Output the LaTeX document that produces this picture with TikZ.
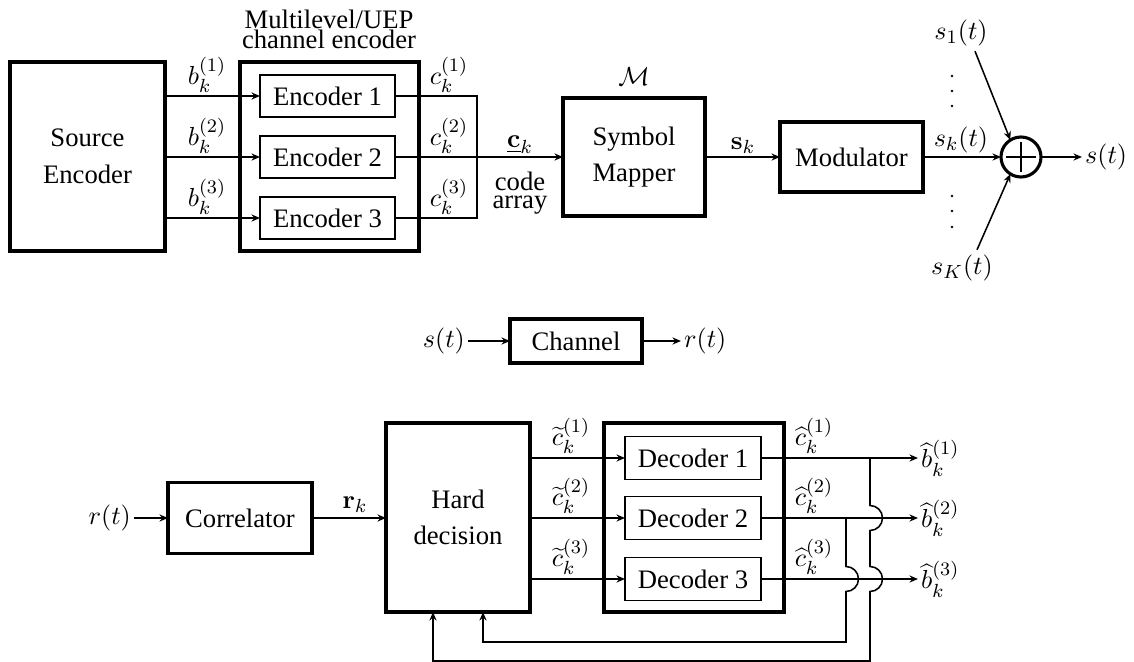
\documentclass[tikz,border=0pt]{standalone}
\usepackage[no-math]{fontspec}
\setmainfont{Liberation Serif}
\usetikzlibrary{arrows.meta}
\def\pxu{0.42pt}
\begin{document}
\begin{tikzpicture}[x=0.42pt,y=0.42pt,
  font=\fontsize{11.2pt}{13.4pt}\selectfont,
  >={Stealth[length=3.6pt,width=3pt,inset=1.2pt]},
  line width=0.65pt,
  thickbox/.style={draw, line width=1.3pt, inner sep=0pt, outer sep=0pt, align=center},
  thinbox/.style={draw, line width=0.65pt, inner sep=0pt, outer sep=0pt, align=center},
  lbl/.style={inner sep=1pt},
  sumnode/.style={draw, circle, line width=1.3pt, minimum size=40*\pxu, inner sep=0pt, outer sep=0pt}]
\useasboundingbox (0,0) rectangle (1134,-662);

% ---------------- Transmitter ----------------
\node[thickbox, minimum width=155*\pxu, minimum height=189*\pxu] (src) at (87.5,-156.5) {Source\\[2pt]Encoder};
\node[thickbox, minimum width=179*\pxu, minimum height=189*\pxu] (encbig) at (329.5,-156.5) {};
\node[inner sep=0pt, align=center] (title) at (329,-29.5) {Multilevel/UEP\\[-5pt]channel encoder};
\node[thinbox, minimum width=135*\pxu, minimum height=42*\pxu] (enc1) at (327.5,-96) {Encoder 1};
\node[thinbox, minimum width=135*\pxu, minimum height=42*\pxu] (enc2) at (327.5,-157) {Encoder 2};
\node[thinbox, minimum width=135*\pxu, minimum height=42*\pxu] (enc3) at (327.5,-218) {Encoder 3};

\draw[->] (src.east |- enc1) -- (enc1.west);
\draw[->] (src.east |- enc2) -- (enc2.west);
\draw[->] (src.east |- enc3) -- (enc3.west);
\node[lbl, anchor=south] (b1) at (207,-96) {$b_k^{(1)}$};
\node[lbl, anchor=south] (b2) at (207,-157) {$b_k^{(2)}$};
\node[lbl, anchor=south] (b3) at (207,-218) {$b_k^{(3)}$};

\coordinate (j1) at (477,-96);
\coordinate (j3) at (477,-218);
\draw (enc1.east) -- (j1) -- (j3) -- (enc3.east);
\node[lbl, anchor=south] (c1) at (449,-96) {$c_k^{(1)}$};
\node[lbl, anchor=south] (c2) at (449,-157) {$c_k^{(2)}$};
\node[lbl, anchor=south] (c3) at (449,-218) {$c_k^{(3)}$};

\node[thickbox, minimum width=142*\pxu, minimum height=118*\pxu] (mapper) at (634,-157) {Symbol\\[2pt]Mapper};
\node[lbl, anchor=south] (calM) at (634,-89) {$\mathcal{M}$};
\draw[->] (enc2.east) -- (mapper.west |- enc2);
\node[lbl, anchor=south] (cvec) at (520,-157) {$\underline{\mathbf{c}}_k$};
\node[inner sep=0pt, anchor=north, align=center] (codearr) at (520,-171) {code\\[-5.8pt]array};

\node[thickbox, minimum width=143*\pxu, minimum height=70*\pxu] (mod) at (851.5,-157) {Modulator};
\draw[->] (mapper) -- (mod);
\node[lbl, anchor=south] (sk) at (743,-157) {$\mathbf{s}_k$};

\node[sumnode] (sum) at (1021,-157) {};
\draw[line width=0.9pt] (1006,-157) -- (1036,-157);
\draw[line width=0.9pt] (1021,-142) -- (1021,-172);
\draw[->] (mod) -- (sum);
\node[lbl, anchor=south] (skt) at (961,-156) {$s_k(t)$};
\node[lbl] (s1) at (961,-33) {$s_1(t)$};
\node[lbl] (sK) at (962,-268) {$s_K(t)$};
\draw[->] ([xshift=14*\pxu, yshift=-2*\pxu]s1.south) -- (sum.122);
\draw[->] ([xshift=15*\pxu, yshift=2*\pxu]sK.north) -- (sum.238);
\node[lbl, anchor=west] (sout) at (1082,-157) {$s(t)$};
\draw[->] (sum) -- (sout);

\foreach \yy in {76,91,106,196,211,227} \fill (952,-\yy) circle[radius=1.4];

% ---------------- Channel ----------------
\node[thickbox, minimum width=132*\pxu, minimum height=44*\pxu] (chan) at (576,-341) {Channel};
\node[lbl, anchor=east] (sin) at (468,-341) {$s(t)$};
\node[lbl, anchor=west] (rout) at (681,-341) {$r(t)$};
\draw[->] (sin) -- (chan);
\draw[->] (chan) -- (rout);

% ---------------- Receiver ----------------
\node[lbl, anchor=east] (rin) at (134,-518) {$r(t)$};
\node[thickbox, minimum width=144*\pxu, minimum height=71*\pxu] (corr) at (240,-518) {Correlator};
\draw[->] (rin) -- (corr);
\node[thickbox, minimum width=144*\pxu, minimum height=189*\pxu] (hd) at (458,-517.5) {Hard\\[2pt]decision};
\draw[->] (corr) -- (hd.west |- corr);
\node[lbl, anchor=south] (rk) at (355,-516) {$\mathbf{r}_k$};

\node[thickbox, minimum width=180*\pxu, minimum height=189*\pxu] (decbig) at (694,-517.5) {};
\node[thinbox, minimum width=136*\pxu, minimum height=43*\pxu] (dec1) at (693,-458) {Decoder 1};
\node[thinbox, minimum width=136*\pxu, minimum height=43*\pxu] (dec2) at (693,-518) {Decoder 2};
\node[thinbox, minimum width=136*\pxu, minimum height=43*\pxu] (dec3) at (693,-579) {Decoder 3};
\draw[->] (hd.east |- dec1) -- (dec1.west);
\draw[->] (hd.east |- dec2) -- (dec2.west);
\draw[->] (hd.east |- dec3) -- (dec3.west);
\node[lbl, anchor=south] (ct1) at (571,-457) {$\widetilde{c}_k^{(1)}$};
\node[lbl, anchor=south] (ct2) at (571,-517) {$\widetilde{c}_k^{(2)}$};
\node[lbl, anchor=south] (ct3) at (571,-578) {$\widetilde{c}_k^{(3)}$};

\node[lbl, anchor=west] (bh1) at (918,-458) {$\widehat{b}_k^{(1)}$};
\node[lbl, anchor=west] (bh2) at (918,-518) {$\widehat{b}_k^{(2)}$};
\node[lbl, anchor=west] (bh3) at (918,-579) {$\widehat{b}_k^{(3)}$};
\draw[->] (dec1) -- (bh1);
\draw[->] (dec2) -- (bh2);
\draw[->] (dec3) -- (bh3);
\node[lbl, anchor=south] (ch1) at (814,-457) {$\widehat{c}_k^{(1)}$};
\node[lbl, anchor=south] (ch2) at (814,-517) {$\widehat{c}_k^{(2)}$};
\node[lbl, anchor=south] (ch3) at (814,-578) {$\widehat{c}_k^{(3)}$};

% feedback paths with hops
\coordinate (f1) at (870,-458);
\coordinate (f2) at (846,-518);
\draw[->] (f1) -- (870,-505.5) arc[start angle=90, end angle=-90, radius=12.5]
  -- (870,-566.5) arc[start angle=90, end angle=-90, radius=12.5]
  -- (870,-661) -| ([xshift=-25*\pxu]hd.south);
\draw[->] (f2) -- (846,-566.5) arc[start angle=90, end angle=-90, radius=12.5]
  -- (846,-642) -| ([xshift=25*\pxu]hd.south);
\end{tikzpicture}
\end{document}
